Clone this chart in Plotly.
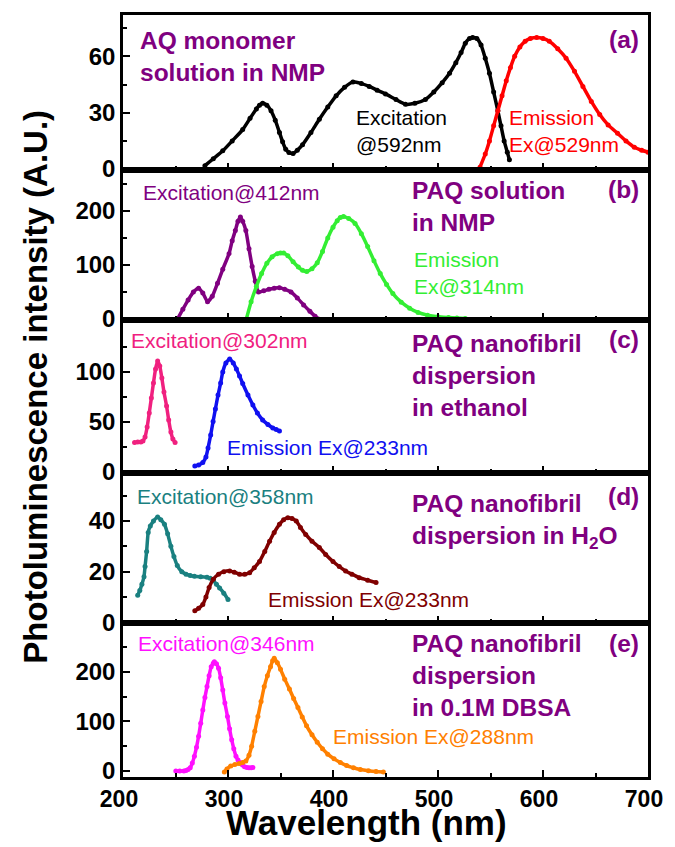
import plotly.graph_objects as go

# ---------------- data (wavelength nm, intensity A.U.) ----------------
a_exc_x = [278, 286, 295, 304, 314, 321, 327, 330, 333, 337, 341, 345, 349, 352, 355, 358, 362, 366, 371, 379, 387, 395, 403, 411, 419, 427, 434.5, 442, 450, 460, 469, 478, 488, 496, 504, 511, 517, 522, 526, 530, 533, 537, 541, 545, 549, 553, 557, 560, 563, 566, 568]
a_exc_y = [1.8, 5.5, 9.7, 15, 21, 27, 32, 34, 35, 34, 31, 26, 19.5, 14.5, 10.6, 8.8, 8.3, 10, 13, 19.5, 26.5, 33, 39, 43.5, 46.4, 45.5, 44, 42, 40, 37, 34.5, 35, 37, 41, 46, 51, 56.6, 62, 67, 69.5, 70, 69.5, 66, 59, 51, 41, 31, 23, 15, 9, 5]
a_em_x = [540, 545, 549, 553, 557, 561, 565, 569, 573, 578, 583, 588, 594, 600, 606, 614, 622, 630, 638, 646, 654, 662, 671, 679, 687, 694, 700]
a_em_y = [1, 8, 15, 23, 31, 39, 47, 54, 60, 65, 68, 69.5, 70, 69.5, 68, 64, 59, 52, 44, 36, 29, 23.5, 19, 15, 11.6, 10, 9]

b_exc_x = [252, 257, 262, 267, 272, 276, 280.5, 285, 290, 295, 301, 304, 307, 309.5, 311.8, 314, 317, 320, 323, 326, 329, 334, 339, 344, 349, 354, 360, 366, 372, 378, 383, 386]
b_exc_y = [0, 18, 35, 50, 57, 48, 32, 42, 66, 92, 121, 145, 164, 181, 189, 181, 164, 130, 97, 70, 50, 52, 55, 57, 58, 55, 50, 39, 26, 14, 5, 0]
b_em_x = [317.5, 322, 327, 332, 337, 342, 347, 350, 353, 357, 362, 367, 371, 375, 380, 385, 390, 395, 400, 404, 407, 410, 415, 421, 427, 433, 439, 445, 451, 457, 465, 473, 481, 490, 500, 510, 518, 526]
b_em_y = [0, 32, 60, 84, 103, 115, 121, 122, 122, 117, 106, 96, 90, 88, 93, 104, 125, 150, 170, 182, 188, 190, 186, 177, 158, 134, 108, 84, 64, 47, 31, 20, 12, 7, 4, 2.5, 1.5, 0.6]

c_exc_x = [211, 214, 217, 219, 221, 223, 225, 227, 229, 231, 233, 235, 237, 239, 241.5, 243.5, 245.6, 247.5, 249.6]
c_exc_y = [29.5, 30, 30, 31, 35, 45, 59, 74, 89, 103, 111, 106, 94, 80, 66, 52, 40, 33, 29.5]
c_em_x = [268.4, 272, 276, 279, 281, 283.5, 285.8, 288, 290.5, 293, 295, 298, 301.6, 305, 308, 311, 314, 319, 323.7, 328, 333, 338, 342.7, 346, 349]
c_em_y = [6, 7, 9.5, 15, 24, 37, 50.6, 63, 77, 89, 100, 109, 113, 109, 103, 96, 88.5, 77, 67, 59, 52, 47.5, 44, 42.5, 41]

d_exc_x = [214, 216, 218, 220, 221, 222.5, 224, 226, 229, 233, 236, 239.5, 242.5, 245.6, 248.5, 251.7, 256, 260, 264, 268, 274, 280, 283, 286, 289, 292, 296, 300]
d_exc_y = [10.7, 12.5, 15, 18, 22, 28, 35.5, 38, 40, 41.6, 40.5, 38.7, 35, 30, 26, 22.4, 20, 19, 18.5, 18.2, 18, 17.8, 17.4, 16.5, 15, 13.5, 11.5, 9]
d_em_x = [268.4, 272, 276, 279, 282, 286, 291, 296, 301.6, 306, 311, 316, 320.6, 325, 330, 335, 339.6, 344, 349, 353, 357, 361, 365, 369, 374, 380, 387, 393, 400, 406, 412, 418, 425, 433, 441]
d_em_y = [4.5, 5.5, 7, 10, 13.7, 17, 19, 20, 20.3, 19.8, 19, 19, 19.6, 21.5, 24, 28, 32, 35.5, 38.7, 40.5, 41.3, 41, 40, 37.5, 34.7, 32, 29.5, 26.8, 24, 22, 20.3, 19, 17.6, 16.6, 15.7]

e_exc_x = [250.3, 254, 258, 260, 262, 264, 266, 268, 270, 272, 274, 276, 278, 280, 282, 284, 286, 287, 289, 291, 293, 295, 297, 299.5, 301.5, 303.5, 305.5, 307.6, 309.5, 311.7, 313.8, 315.8, 318, 320, 322, 323.7]
e_exc_y = [0, 0, 0, 1, 3, 6.7, 16, 30, 48, 70, 96, 123, 148, 170, 192, 210, 217, 220, 216, 207, 188, 163, 137, 110, 85, 63, 45, 30, 22, 16.7, 12, 8.7, 7, 6.7, 6.7, 7]
e_em_x = [296.5, 299, 302.6, 306.5, 310.7, 314, 317, 320, 322.5, 325.5, 328.5, 331.5, 334.5, 337.5, 340.5, 342.5, 344, 347, 350, 354, 358.5, 362.5, 366.6, 370.7, 374.8, 380, 385, 390, 395, 401, 407, 413, 419.5, 426, 433.8, 441, 448]
e_em_y = [-2, 4, 10, 13, 15, 17, 20, 32, 50, 80, 110, 140, 170, 192, 210, 222, 227, 218, 205, 185, 165, 146, 128, 109, 91, 73, 58, 45, 34, 24.5, 17, 11, 6.7, 3, 0.5, -1, -2]

x_ticks = [200, 300, 400, 500, 600, 700]
y_ticks = [[0, 30, 60], [0, 100, 200], [0, 50, 100], [0, 20, 40], [0, 100, 200]]

# ---------------- figure ----------------
PURPLE = "#800080"
FONT = "Liberation Sans, Arial, sans-serif"

panels = [
    # (exc x, exc y, exc colour, em x, em y, em colour, y range, minor step)
    (a_exc_x, a_exc_y, "#000000", a_em_x, a_em_y, "#FF0000", [-0.5, 82], 15),
    (b_exc_x, b_exc_y, "#800080", b_em_x, b_em_y, "#33EE33", [-2, 276], 50),
    (c_exc_x, c_exc_y, "#F0207F", c_em_x, c_em_y, "#1010F0", [-1, 152], 25),
    (d_exc_x, d_exc_y, "#1A8080", d_em_x, d_em_y, "#800000", [-0.3, 59], 10),
    (e_exc_x, e_exc_y, "#FF10FF", e_em_x, e_em_y, "#FF8000", [-12, 298], 50),
]

# page pixel boundaries of the panels (top to bottom)
bounds_px = [15, 170, 320, 473, 623, 777]
top, bot = 15, 777
H = bot - top
PW = 535

fig = go.Figure()
layout = dict(
    width=675, height=847,
    margin=dict(l=123, r=17, t=15, b=70),
    plot_bgcolor="white", paper_bgcolor="white",
    showlegend=False,
    font=dict(family=FONT, color="black"),
)

for i, (ex, ey, ec, mx, my, mc, yr, mstep) in enumerate(panels):
    k = "" if i == 0 else str(i + 1)
    xa, ya = "x" + k, "y" + k
    y0 = (bot - bounds_px[i + 1]) / H
    y1 = (bot - bounds_px[i]) / H
    for xs, ys, col in ((ex, ey, ec), (mx, my, mc)):
        fig.add_trace(go.Scatter(
            x=xs, y=ys, mode="lines+markers", xaxis=xa, yaxis=ya,
            line=dict(color=col, width=3.5, shape="spline", smoothing=0.5),
            marker=dict(color=col, size=5),
            hoverinfo="skip"))
    last = (i == len(panels) - 1)
    layout["xaxis" + k] = dict(
        domain=[0, 1], anchor=ya, range=[200, 700],
        tickvals=x_ticks, showticklabels=last, ticklabelshift=-4,
        ticks="inside", ticklen=7, tickwidth=2, tickcolor="black",
        minor=dict(ticks="inside", ticklen=4, tickwidth=2, dtick=50, tick0=200, tickcolor="black"),
        showline=True, linewidth=2.5, linecolor="black", mirror=True,
        showgrid=False, zeroline=False,
        tickfont=dict(size=23, family=FONT, weight="bold", color="black"),
        matches=None if i == 0 else "x",
    )
    layout["yaxis" + k] = dict(
        domain=[y0, y1], anchor=xa, range=yr,
        tickvals=y_ticks[i],
        ticks="inside", ticklen=7, tickwidth=2, tickcolor="black",
        minor=dict(ticks="inside", ticklen=4, tickwidth=2, dtick=mstep, tick0=0, tickcolor="black"),
        showline=True, linewidth=2.5, linecolor="black", mirror=True,
        showgrid=False, zeroline=False,
        tickfont=dict(size=24, family=FONT, weight="bold", color="black"),
    )

fig.update_layout(**layout)

def txt(text, x, y, axis_i, color, size, bold=False, xanchor="left", yanchor="middle", align="left"):
    k = "" if axis_i == 0 else str(axis_i + 1)
    fig.add_annotation(
        text=text, x=x, y=y, xref="x" + k, yref="y" + k,
        xanchor=xanchor, yanchor=yanchor, align=align, showarrow=False,
        font=dict(family=FONT, size=size, color=color, weight="bold" if bold else "normal"),
    )

BS, NS = 24.5, 21
# panel a
txt("AQ monomer<br>solution in NMP", 214, 60, 0, PURPLE, BS, True)
txt("(a)", 693, 69, 0, PURPLE, BS, True, xanchor="right")
txt("Excitation<br>@592nm", 420, 20, 0, "#000000", NS)
txt("Emission<br>Ex@529nm", 566, 20, 0, "#FF0000", NS)
# panel b
txt("Excitation@412nm", 217, 235, 1, "#800080", NS)
txt("PAQ solution<br>in NMP", 473, 209, 1, PURPLE, BS, True)
txt("(b)", 693, 239, 1, PURPLE, BS, True, xanchor="right")
txt("Emission<br>Ex@314nm", 475, 86, 1, "#33EE33", NS)
# panel c
txt("Excitation@302nm", 206, 132, 2, "#F0207F", NS)
txt("Emission Ex@233nm", 297, 25, 2, "#1010F0", NS)
txt("PAQ nanofibril<br>dispersion<br>in ethanol", 473, 97, 2, PURPLE, BS, True)
txt("(c)", 693, 133, 2, PURPLE, BS, True, xanchor="right")
# panel d
txt("Excitation@358nm", 211, 49.8, 3, "#1A8080", NS)
txt("Emission Ex@233nm", 336, 9, 3, "#800000", NS)
txt("PAQ nanofibril<br>dispersion in H<sub>2</sub>O", 473, 40, 3, PURPLE, BS, True)
txt("(d)", 693, 49.8, 3, PURPLE, BS, True, xanchor="right")
# panel e
txt("Excitation@346nm", 212, 257, 4, "#FF10FF", NS)
txt("Emission Ex@288nm", 398, 69, 4, "#FF8000", NS)
txt("PAQ nanofibril<br>dispersion<br>in 0.1M DBSA", 473, 193, 4, PURPLE, BS, True)
txt("(e)", 693, 257, 4, PURPLE, BS, True, xanchor="right")

# axis titles
fig.add_annotation(text="Wavelength (nm)", xref="paper", yref="paper",
                   x=(371 - 123) / PW, y=-(844 - bot) / H, xanchor="center", yanchor="bottom",
                   showarrow=False, font=dict(family=FONT, size=35, weight="bold", color="black"))
fig.add_annotation(text="Photoluminescence intensity (A.U.)", xref="paper", yref="paper",
                   x=-(123 - 33) / PW, y=(bot - 387) / H, xanchor="center", yanchor="middle",
                   textangle=-90, showarrow=False,
                   font=dict(family=FONT, size=33, weight="bold", color="black"))

# remove the default page margin so the 675x847 figure fills the window exactly
post = ("document.documentElement.style.margin='0';document.body.style.margin='0';"
        "document.documentElement.style.overflow='hidden';document.body.style.overflow='hidden';")
fig.write_html("out.html", post_script=post, config={"displayModeBar": False})
